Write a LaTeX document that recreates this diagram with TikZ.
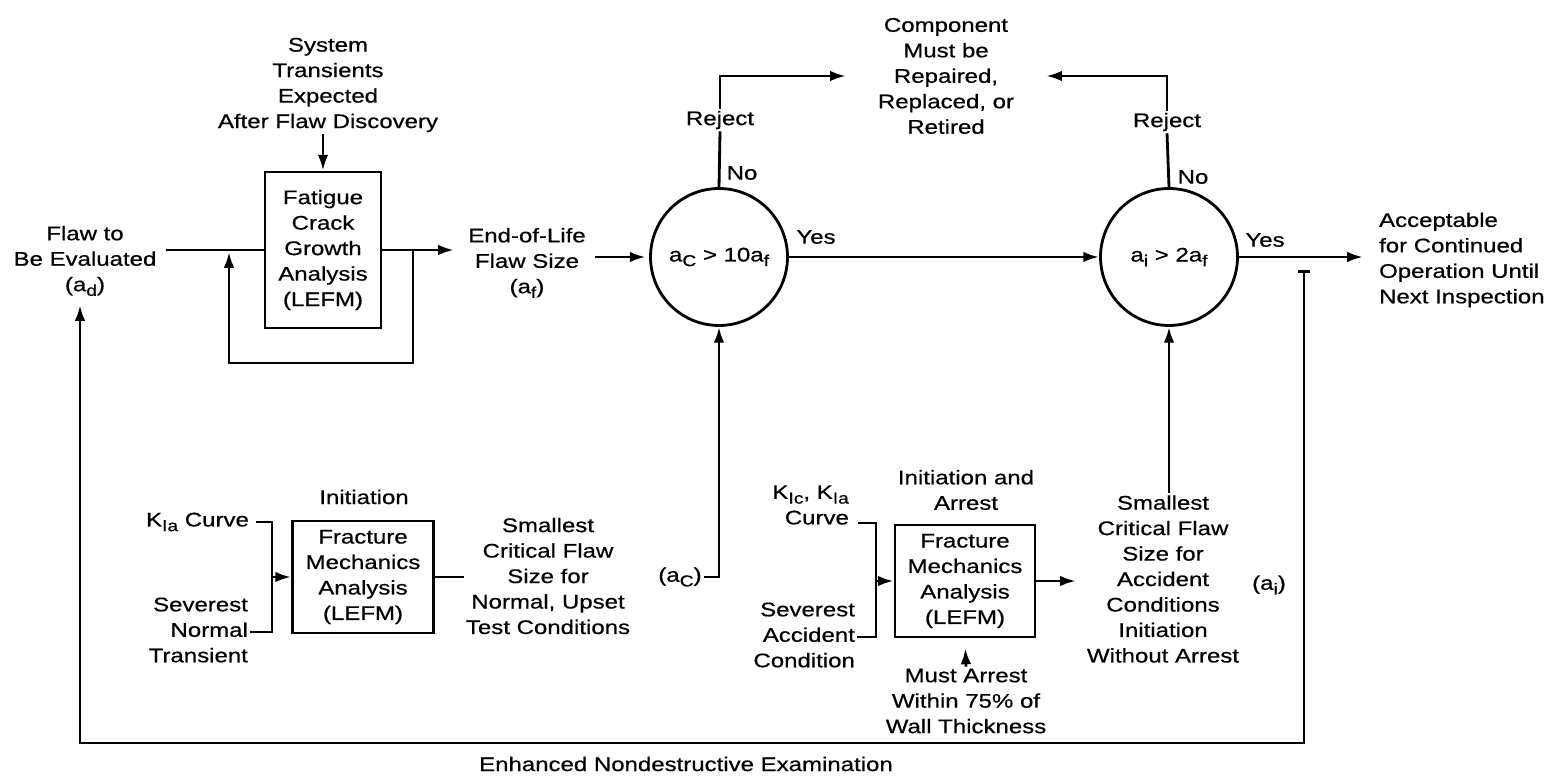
\documentclass[tikz,border=0pt]{standalone}
\usepackage{fontspec}
\setmainfont{Liberation Sans}[FakeStretch=1.22, FakeBold=0.6]
\usepackage{tikz}
\usetikzlibrary{arrows.meta, positioning, calc}
\newcommand{\subx}[1]{\raisebox{-0.45ex}{\fontsize{9}{9}\selectfont #1}}

\begin{document}
\begin{tikzpicture}[
    x=0.02cm, y=-0.02cm,
    font=\fontsize{11.2}{14.5}\selectfont,
    txt/.style={align=center, inner sep=1pt},
    box/.style={rectangle, draw=black, line width=1.6pt, align=center, inner sep=1pt},
    test/.style={circle, draw=black, line width=1.6pt, minimum size=2.74cm, inner sep=0pt},
    line/.style={line width=1.6pt},
    arrow/.style={-{Latex[length=9pt,width=6pt]}, line width=1.6pt}
]
\useasboundingbox (0,0) rectangle (1554,776);

% upper row
\node[txt] (sys) at (328,85) {System\\Transients\\Expected\\After Flaw Discovery};
\node[txt] (flaw) at (85,261) {Flaw to\\Be Evaluated\\(a\subx{d})};
\node[box, minimum width=2.32cm, minimum height=3.12cm] (fcg) at (323,250) {Fatigue\\Crack\\Growth\\Analysis\\(LEFM)};
\node[txt] (eol) at (527,263) {End-of-Life\\Flaw Size\\(a\subx{f})};
\node[test] (chk1) at (719,257) {a\subx{C} > 10a\subx{f}};
\node[test] (chk2) at (1169,257) {a\subx{i} > 2a\subx{f}};
\node[txt] (comp) at (946,76) {Component\\Must be\\Repaired,\\Replaced, or\\Retired};
\node[txt, align=left, anchor=west] (acc) at (1377,260) {Acceptable\\for Continued\\Operation Until\\Next Inspection};
\node[txt] (rej1) at (720,120) {Reject};
\node[txt] (no1) at (742,173) {No};
\node[txt] (yes1) at (816,237) {Yes};
\node[txt] (rej2) at (1167,122) {Reject};
\node[txt] (no2) at (1193,177) {No};
\node[txt] (yes2) at (1265,240) {Yes};

% lower row
\node[txt] (init1) at (364,497) {Initiation};
\node[box, minimum width=2.82cm, minimum height=2.24cm] (fm1) at (363,577) {Fracture\\Mechanics\\Analysis\\(LEFM)};
\node[txt, anchor=east] (kia) at (251,522) {K\subx{Ia} Curve};
\node[txt, align=right, anchor=east] (sev1) at (250,630) {Severest\\Normal\\Transient};
\node[txt] (small1) at (548,576) {Smallest\\Critical Flaw\\Size for\\Normal, Upset\\Test Conditions};
\node[txt] (ac) at (680,577) {(a\subx{C})};
\node[txt, align=right, anchor=east] (kic) at (851,505) {K\subx{Ic}, K\subx{Ia}\\Curve};
\node[txt, align=right, anchor=east] (sev2) at (857,635) {Severest\\Accident\\Condition};
\node[txt] (init2) at (966,490) {Initiation and\\Arrest};
\node[box, minimum width=2.8cm, minimum height=2.24cm] (fm2) at (965,581) {Fracture\\Mechanics\\Analysis\\(LEFM)};
\node[txt] (must) at (966,701) {Must Arrest\\Within 75\% of\\Wall Thickness};
\node[txt] (small2) at (1163,579) {Smallest\\Critical Flaw\\Size for\\Accident\\Conditions\\Initiation\\Without Arrest};
\node[txt] (ai) at (1269,585) {(a\subx{i})};
\node[txt] (nde) at (686,764) {Enhanced Nondestructive Examination};

% corner points
\coordinate (tap) at (413,250);
\coordinate (lpr) at (413,363);
\coordinate (lpl) at (229,363);
\coordinate (lpin) at (229,252);
\coordinate (br1t) at (272,522);
\coordinate (br1b) at (272,632);
\coordinate (br2t) at (876,523);
\coordinate (br2b) at (876,637);
\coordinate (ndet) at (1304,270);
\coordinate (ndebr) at (1304,743);
\coordinate (ndebl) at (80,743);

% fatigue loop
\draw[arrow] (sys.south -| fcg.north) -- (fcg.north);
\draw[line, shorten <=4pt] (flaw.east |- fcg.west) -- (fcg.west);
\draw[arrow, shorten >=7pt] (fcg.east) -- (eol.west |- fcg.east);
\draw[arrow] (tap) -- (lpr) -- (lpl) -- (lpin);
\draw[arrow, shorten <=4pt, shorten >=2pt] (eol.east |- chk1.west) -- (chk1.west);

% decisions
\draw[arrow] (chk1.east) -- (chk2.west);
\draw[arrow, shorten >=0.28cm] (chk2.east) -- (acc.west |- chk2.east);
\draw[line] (chk1.north) -- (rej1.south);
\draw[arrow, shorten >=0.6cm] (rej1.north) |- (comp.west);
\draw[line] (chk2.north) -- (rej2.south);
\draw[arrow, shorten >=0.6cm] (rej2.north) |- (comp.east);

% normal conditions
\draw[line, shorten <=3pt] (kia.east) -- (br1t) -- (br1b) -- (sev1.east |- br1b);
\draw[arrow] (br1t |- fm1.west) -- (fm1.west);
\draw[line] (fm1.east) -- (small1.west |- fm1.east);
\draw[arrow] (ac.east) -| (chk1.south);

% accident conditions
\draw[line, shorten <=4pt] (kic.east |- br2t) -- (br2t) -- (br2b) -- (sev2.east |- br2b);
\draw[arrow] (br2t |- fm2.west) -- (fm2.west);
\draw[arrow, shorten >=0.18cm] (fm2.east) -- (small2.west |- fm2.east);
\draw[arrow, shorten >=0.2cm] (must.north) -- (fm2.south);
\draw[arrow] (chk2.south |- small2.north) -- (chk2.south);

% examination loop
\draw[line, {Bar[width=7pt]}-{Latex[length=9pt,width=6pt]}, shorten >=0.14cm] (ndet) -- (ndebr) -- (ndebl) -- (ndebl |- flaw.south);
\end{tikzpicture}
\end{document}
